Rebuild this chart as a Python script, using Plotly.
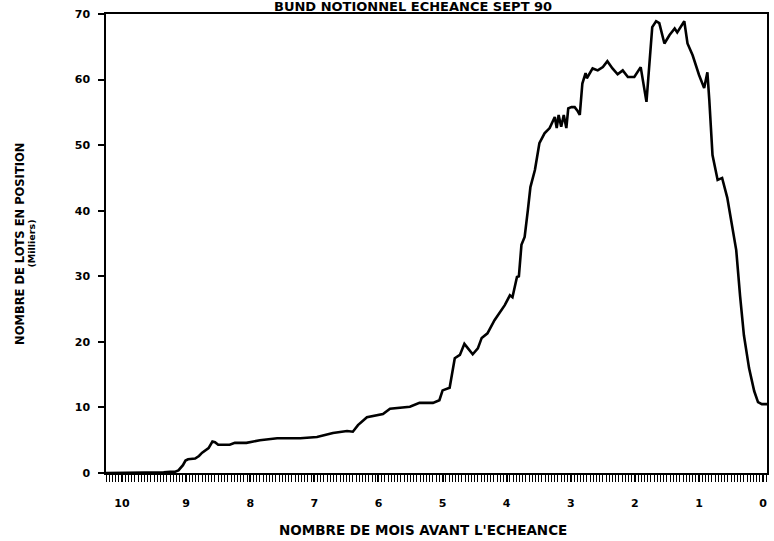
import plotly.graph_objects as go

# Months before expiry (x) and open interest in thousands of lots (y)
months = [10.25, 9.6, 9.35, 9.25, 9.17, 9.12, 9.05, 9.01, 8.97, 8.86, 8.80, 8.75, 8.70, 8.65,
          8.59, 8.55, 8.50, 8.32, 8.24, 8.06, 7.85, 7.58, 7.22, 6.96, 6.71, 6.49, 6.40, 6.32,
          6.18, 5.93, 5.82, 5.67, 5.51, 5.36, 5.15, 5.05, 5.00, 4.89, 4.81, 4.73, 4.66, 4.53,
          4.45, 4.39, 4.30, 4.19, 4.11, 4.03, 3.95, 3.91, 3.84, 3.81, 3.77, 3.72, 3.67, 3.63,
          3.56, 3.53, 3.49, 3.41, 3.33, 3.25, 3.22, 3.19, 3.15, 3.11, 3.07, 3.04, 2.99, 2.94,
          2.90, 2.86, 2.82, 2.77, 2.75, 2.66, 2.58, 2.50, 2.43, 2.35, 2.27, 2.19, 2.11, 2.01,
          1.91, 1.82, 1.73, 1.67, 1.62, 1.54, 1.46, 1.38, 1.34, 1.23, 1.18, 1.10, 1.04, 1.00,
          0.92, 0.87, 0.84, 0.79, 0.71, 0.64, 0.56, 0.48, 0.42, 0.36, 0.30, 0.22, 0.14, 0.08,
          0.02, -0.06]
lots = [0.0, 0.0, 0.1, 0.2, 0.2, 0.4, 1.2, 1.9, 2.1, 2.2, 2.6, 3.1, 3.4, 3.8,
        4.8, 4.7, 4.3, 4.3, 4.6, 4.6, 5.0, 5.3, 5.3, 5.5, 6.1, 6.4, 6.3, 7.3,
        8.5, 9.0, 9.8, 9.9, 10.1, 10.7, 10.7, 11.1, 12.6, 13.0, 17.5, 18.0, 19.7, 18.1,
        19.0, 20.6, 21.3, 23.3, 24.4, 25.6, 27.1, 26.8, 29.9, 30.0, 34.8, 36.0, 40.1, 43.6,
        46.2, 48.2, 50.3, 51.8, 52.6, 54.3, 52.6, 54.6, 52.8, 54.6, 52.6, 55.6, 55.8, 55.8,
        55.3, 54.6, 59.4, 61.0, 60.2, 61.7, 61.4, 61.9, 62.8, 61.7, 60.8, 61.4, 60.4, 60.4,
        61.9, 56.6, 68.0, 68.9, 68.6, 65.5, 66.8, 67.8, 67.2, 68.9, 65.5, 63.7, 61.9, 60.7,
        58.7, 61.1, 56.9, 48.5, 44.7, 45.0, 42.0, 37.5, 34.0, 27.0, 21.0, 16.0, 12.5, 10.8,
        10.5, 10.5]

x_ticks = [10, 9, 8, 7, 6, 5, 4, 3, 2, 1, 0]
y_ticks = [0, 10, 20, 30, 40, 50, 60, 70]

title_text = "BUND NOTIONNEL ECHEANCE SEPT 90"
x_title = "NOMBRE DE MOIS AVANT L'ECHEANCE"
y_title = "NOMBRE DE LOTS EN POSITION"
y_subtitle = "(Milliers)"

FONT = "DejaVu Sans"

fig = go.Figure()
fig.add_trace(go.Scatter(x=months, y=lots, mode="lines",
                         line=dict(color="black", width=2.6), hoverinfo="skip",
                         showlegend=False))

fig.update_layout(
    width=774, height=541,
    margin=dict(l=106, r=5, t=14, b=68),
    paper_bgcolor="white", plot_bgcolor="white",
    font=dict(family=FONT, size=11, color="black", weight="bold"),
    xaxis=dict(range=[10.25, -0.06], tickmode="array", tickvals=x_ticks,
               ticktext=[str(v) for v in x_ticks],
               ticks="outside", ticklen=7, tickwidth=1.5, tickcolor="black",
               showline=True, linecolor="black", linewidth=1.5, mirror=True,
               showgrid=False, zeroline=False, ticklabelstandoff=12,
               tickfont=dict(family=FONT, size=11, color="black", weight="bold"),
               minor=dict(dtick=0.05, tick0=0, ticks="outside", ticklen=7,
                          tickwidth=1.2, tickcolor="black", showgrid=False)),
    yaxis=dict(range=[0, 70], tickmode="array", tickvals=y_ticks,
               ticks="outside", ticklen=6, tickwidth=1.5, tickcolor="black",
               showline=True, linecolor="black", linewidth=1.5, mirror=True,
               showgrid=False, zeroline=False, ticklabelstandoff=6,
               tickfont=dict(family=FONT, size=11, color="black", weight="bold")),
    annotations=[
        dict(text=title_text, xref="paper", yref="paper", x=0.465, y=1.0174,
             xanchor="center", yanchor="middle", showarrow=False,
             font=dict(family=FONT, size=13, color="black", weight="bold")),
        dict(text=x_title, xref="paper", yref="paper", x=0.48, y=-0.125,
             xanchor="center", yanchor="middle", showarrow=False,
             font=dict(family=FONT, size=13.5, color="black", weight="bold")),
        dict(text=y_title, xref="paper", yref="paper", x=-0.131, y=0.5,
             xanchor="center", yanchor="middle", showarrow=False, textangle=-90,
             font=dict(family=FONT, size=11.5, color="black", weight="bold")),
        dict(text=y_subtitle, xref="paper", yref="paper", x=-0.112, y=0.5,
             xanchor="center", yanchor="middle", showarrow=False, textangle=-90,
             font=dict(family=FONT, size=9.5, color="black", weight="bold")),
    ],
)

fig.write_html("out.html", config={"displayModeBar": False},
               post_script="document.body.style.margin='0px';")
